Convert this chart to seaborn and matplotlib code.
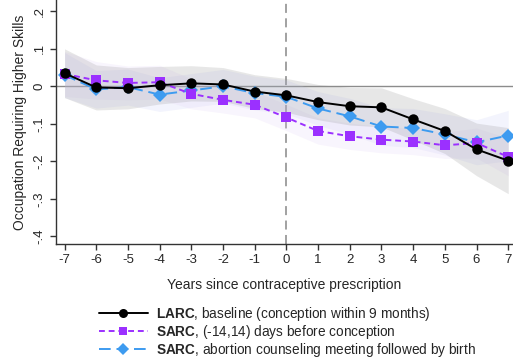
import numpy as np
import pandas as pd
import matplotlib
matplotlib.use("Agg")
from matplotlib import pyplot as plt
from matplotlib.lines import Line2D
import seaborn as sns

years = list(range(-7, 8))

larc = [0.035, -0.003, -0.005, 0.003, 0.008, 0.005, -0.014, -0.024, -0.042,
        -0.053, -0.056, -0.088, -0.119, -0.168, -0.198]
larc_ci = [0.065, 0.06, 0.055, 0.05, 0.047, 0.045, 0.045, 0.045, 0.047,
           0.05, 0.052, 0.055, 0.06, 0.07, 0.088]

sarc_conc = [0.033, 0.016, 0.009, 0.011, -0.02, -0.036, -0.049, -0.083, -0.119,
             -0.133, -0.142, -0.147, -0.157, -0.151, -0.188]
sarc_conc_ci = [0.06, 0.05, 0.045, 0.045, 0.04, 0.035, 0.035, 0.035, 0.035,
                0.035, 0.035, 0.035, 0.035, 0.04, 0.05]

sarc_abort = [0.03, -0.008, -0.002, -0.022, -0.011, 0.0, -0.018, -0.028, -0.059,
              -0.08, -0.107, -0.111, -0.128, -0.149, -0.131]
sarc_abort_ci = [0.06, 0.05, 0.048, 0.045, 0.045, 0.045, 0.045, 0.045, 0.045,
                 0.048, 0.05, 0.052, 0.055, 0.06, 0.067]

labels = [r"$\bf{LARC}$, baseline (conception within 9 months)",
          r"$\bf{SARC}$, (-14,14) days before conception",
          r"$\bf{SARC}$, abortion counseling meeting followed by birth"]

sns.set_style("ticks")
plt.rcParams["font.family"] = ["Liberation Sans", "DejaVu Sans"]
plt.rcParams["mathtext.fontset"] = "custom"
plt.rcParams["mathtext.bf"] = "Liberation Sans:bold"
plt.rcParams["mathtext.rm"] = "Liberation Sans"

fig = plt.figure(figsize=(5.13, 3.62), dpi=100)
ax = fig.add_axes([56/513, 1 - 244/362, 1 - 56/513, 244/362])

series = [
    (larc, larc_ci, "black", "o", (None, None), 7.5, "#8a8a8a", 0.2),
    (sarc_conc, sarc_conc_ci, "#9b30ff", "s", (3, 2), 7, "#e0cdf5", 0.2),
    (sarc_abort, sarc_abort_ci, "#3d9bf0", "D", (6, 3), 7, "#c4caf5", 0.2),
]

ax.axhline(0, color="#8c8c8c", lw=1, zorder=1)
ax.axvline(0, color="#9a9a9a", lw=1.3, ls=(0, (5, 3)), zorder=1)

for vals, ci, col, mk, dash, ms, band, alpha in reversed(series):
    df = pd.DataFrame({"year": years, "val": vals})
    sns.lineplot(data=df, x="year", y="val", ax=ax, color=col, marker=mk,
                 markersize=ms, markeredgewidth=0, linewidth=1.4, zorder=3,
                 linestyle=(0, dash) if dash[0] is not None else "-")
    lo = np.array(vals) - np.array(ci)
    hi = np.array(vals) + np.array(ci)
    ax.fill_between(years, lo, hi, color=band, alpha=alpha, lw=0, zorder=2)

handles = []
for vals, ci, col, mk, dash, ms, band, alpha in series:
    handles.append(Line2D([], [], color=col, marker=mk, markersize=ms - 1,
                          markeredgewidth=0, lw=1.4,
                          linestyle=(0, dash) if dash[0] is not None else "-"))

ax.set_xlim(-7.27, 7.15)
ax.set_ylim(-0.42, 0.23)
ax.set_xticks(years)
ax.set_xticklabels([str(y) for y in years], fontsize=9.5)
yt = [0.2, 0.1, 0, -0.1, -0.2, -0.3, -0.4]
ax.set_yticks(yt)
ax.set_yticklabels([".2", ".1", "0", "-.1", "-.2", "-.3", "-.4"], fontsize=9.5,
                   rotation=90, va="center")
ax.tick_params(length=4, width=1, color="#333333")
ax.set_xlabel("Years since contraceptive prescription", fontsize=10, labelpad=8)
ax.set_ylabel("Occupation Requiring Higher Skills", fontsize=10, labelpad=5)
for s in ["top", "right"]:
    ax.spines[s].set_visible(False)
for s in ["left", "bottom"]:
    ax.spines[s].set_color("#333333")
    ax.spines[s].set_linewidth(1)

fig.legend(handles, labels, loc="upper left", bbox_to_anchor=(92/513, 1 - 298/362),
           frameon=False, fontsize=9.8, handlelength=3.6, labelspacing=0.0,
           handletextpad=0.6, borderpad=0)

fig.savefig("out.png", dpi=100)
